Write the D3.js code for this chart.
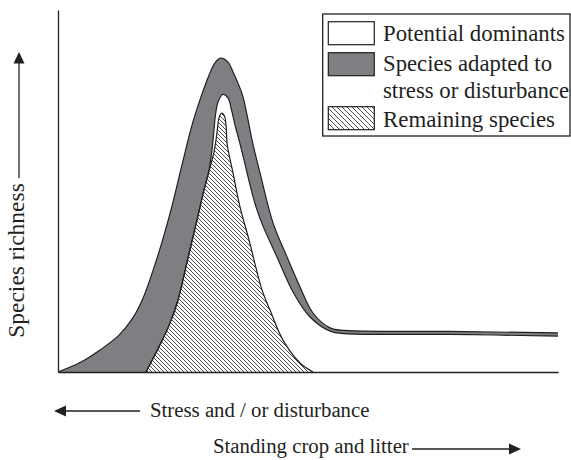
<!DOCTYPE html>
<html><head><meta charset="utf-8">
<script src="https://cdn.jsdelivr.net/npm/d3@7"></script>
<style>
html,body{margin:0;padding:0;background:#fff;}
svg{display:block;}
text{font-family:"Liberation Serif","Times New Roman",Times,serif;fill:#231f20;}
</style>
</head><body>
<svg id="chart" width="571" height="460"></svg>
<script>
// Gradient position (0 = high stress/disturbance ... 100 = high standing crop) and species richness (0..100)
// Outer curve: total richness (top of "Species adapted to stress or disturbance")
const totalX = [0, 4.4, 8.4, 12, 14.8, 17, 20, 22.6, 24.8, 26.8, 28.6, 30.2, 31.4, 32.5, 34, 35, 36, 36.9, 37.9, 38.8, 40.4, 43, 45.8, 48.4, 51, 54.4, 57.4, 78.4, 100];
const totalY = [0, 2.6, 6.1, 9.9, 14.6, 20.4, 32.3, 44.8, 57.2, 68.2, 76.0, 82.0, 85.4, 86.7, 85.6, 82.9, 79.8, 76.5, 70.4, 64.1, 55.0, 41.2, 31.8, 23.5, 16.3, 12.2, 11.5, 11.2, 10.8];
// Middle curve: remaining species + potential dominants
const dominantsX = [17.6, 20.4, 22.4, 24, 26, 27.8, 29.2, 30.2, 30.8, 31.16, 31.5, 32, 32.94, 34, 34.7, 35.4, 36.2, 37.2, 38.4, 39.6, 41, 43.8, 47, 50.4, 54.4, 57.4, 78.4, 100];
const dominantsY = [0, 7.5, 13.5, 19.9, 31.5, 42.0, 50.3, 55.8, 61.3, 66.3, 71.0, 74.6, 76.7, 75.7, 72.4, 68.2, 64.1, 58.6, 51.7, 45.6, 40.3, 31.8, 22.1, 15.2, 11.3, 10.6, 10.4, 9.9];
// Inner curve: remaining species
const remainingX = [17.6, 20.4, 22.4, 24, 26, 27.8, 29.2, 30.4, 31.2, 31.6, 31.9, 32.2, 32.74, 33.3, 33.6, 33.86, 35, 36.4, 38.2, 40.8, 42.4, 45, 48.4, 51];
const remainingY = [0, 7.5, 13.5, 19.9, 31.5, 42.0, 50.3, 56.4, 60.8, 64.1, 67.4, 70.2, 71.5, 70.7, 68.2, 62.7, 55.0, 45.6, 36.5, 22.7, 17.1, 8.8, 2.5, 0];

const legendLabels = [["Potential dominants"], ["Species adapted to", "stress or disturbance"], ["Remaining species"]];
const yAxisLabel = "Species richness";
const xLabelLeft = "Stress and / or disturbance";
const xLabelRight = "Standing crop and litter";

const INK = "#231f20", GRAY = "#7e7f82";
const svg = d3.select("#chart");
const x = d3.scaleLinear().domain([0, 100]).range([58, 558]);
const y = d3.scaleLinear().domain([0, 100]).range([372, 10]);

const defs = svg.append("defs");
function hatch(id, s) {
  const p = defs.append("pattern").attr("id", id).attr("patternUnits", "userSpaceOnUse")
    .attr("width", s).attr("height", s);
  p.append("rect").attr("width", s).attr("height", s).attr("fill", "#fff");
  p.append("path").attr("d", `M0,0L${s},${s}M${-s/2},${s/2}L${s/2},${s*1.5}M${s/2},${-s/2}L${s*1.5},${s/2}`)
    .attr("stroke", INK).attr("stroke-width", 0.8);
}
hatch("hatchPlot", 4);
hatch("hatchLegend", 5);

const pts = (xs, ys) => xs.map((v, i) => ({x: v, y: ys[i]}));
const curve = d3.curveCatmullRom.alpha(0.5);
const area = d3.area().x(d => x(d.x)).y0(y(0)).y1(d => y(d.y)).curve(curve);
const line = d3.line().x(d => x(d.x)).y(d => y(d.y)).curve(curve);

const layers = [
  {data: pts(totalX, totalY), fill: GRAY},
  {data: pts(dominantsX, dominantsY), fill: "#fff"},
  {data: pts(remainingX, remainingY), fill: "url(#hatchPlot)"}
];
layers.forEach(l => svg.append("path").attr("d", area(l.data)).attr("fill", l.fill));
layers.forEach(l => svg.append("path").attr("d", line(l.data)).attr("fill", "none")
  .attr("stroke", INK).attr("stroke-width", 1.2));

// axes (no ticks)
const ax = svg.append("g").attr("transform", `translate(0,${y(0)})`)
  .call(d3.axisBottom(x).ticks(0).tickSizeOuter(0));
const ay = svg.append("g").attr("transform", `translate(${x(0)},0)`)
  .call(d3.axisLeft(y).ticks(0).tickSizeOuter(0));
[ax, ay].forEach(g => g.select(".domain").attr("stroke", INK).attr("stroke-width", 1.3));

// legend
const lg = svg.append("g");
lg.append("rect").attr("x", 322.7).attr("y", 14).attr("width", 247.3).attr("height", 122)
  .attr("fill", "#fff").attr("stroke", INK).attr("stroke-width", 1.3);
const swFills = ["#fff", GRAY, "url(#hatchLegend)"];
const swY = [21.7, 52.7, 106.7];
const txtY = [[40.5], [71, 97.8], [127.4]];
const txtW = [[182], [169], [186], [172]];
const widths = [[182], [169, 186], [172]];
legendLabels.forEach((lines, i) => {
  lg.append("rect").attr("x", 328.3).attr("y", swY[i]).attr("width", 46).attr("height", 23)
    .attr("fill", swFills[i]).attr("stroke", INK).attr("stroke-width", 1.2);
  lines.forEach((t, j) => lg.append("text").attr("x", 383).attr("y", txtY[i][j])
    .attr("font-size", 22.4).attr("textLength", widths[i][j])
    .attr("lengthAdjust", "spacingAndGlyphs").text(t));
});

// y label + arrow
svg.append("text").attr("transform", "translate(24,260.5) rotate(-90)")
  .attr("text-anchor", "middle").attr("font-size", 23.5).text(yAxisLabel);
svg.append("line").attr("x1", 19).attr("x2", 19).attr("y1", 178).attr("y2", 62)
  .attr("stroke", INK).attr("stroke-width", 1.3);
svg.append("path").attr("d", "M19,52L13.5,63.5L24.5,63.5Z").attr("fill", INK);

// bottom labels + arrows
svg.append("text").attr("x", 150).attr("y", 417).attr("font-size", 20.8).text(xLabelLeft);
svg.append("line").attr("x1", 65).attr("x2", 140).attr("y1", 411).attr("y2", 411)
  .attr("stroke", INK).attr("stroke-width", 1.3);
svg.append("path").attr("d", "M54,411L66,405.5L66,416.5Z").attr("fill", INK);

svg.append("text").attr("x", 213).attr("y", 453).attr("font-size", 20.8).text(xLabelRight);
svg.append("line").attr("x1", 412).attr("x2", 510).attr("y1", 449).attr("y2", 449)
  .attr("stroke", INK).attr("stroke-width", 1.3);
svg.append("path").attr("d", "M521,449L509,443.5L509,454.5Z").attr("fill", INK);
</script>
</body></html>
